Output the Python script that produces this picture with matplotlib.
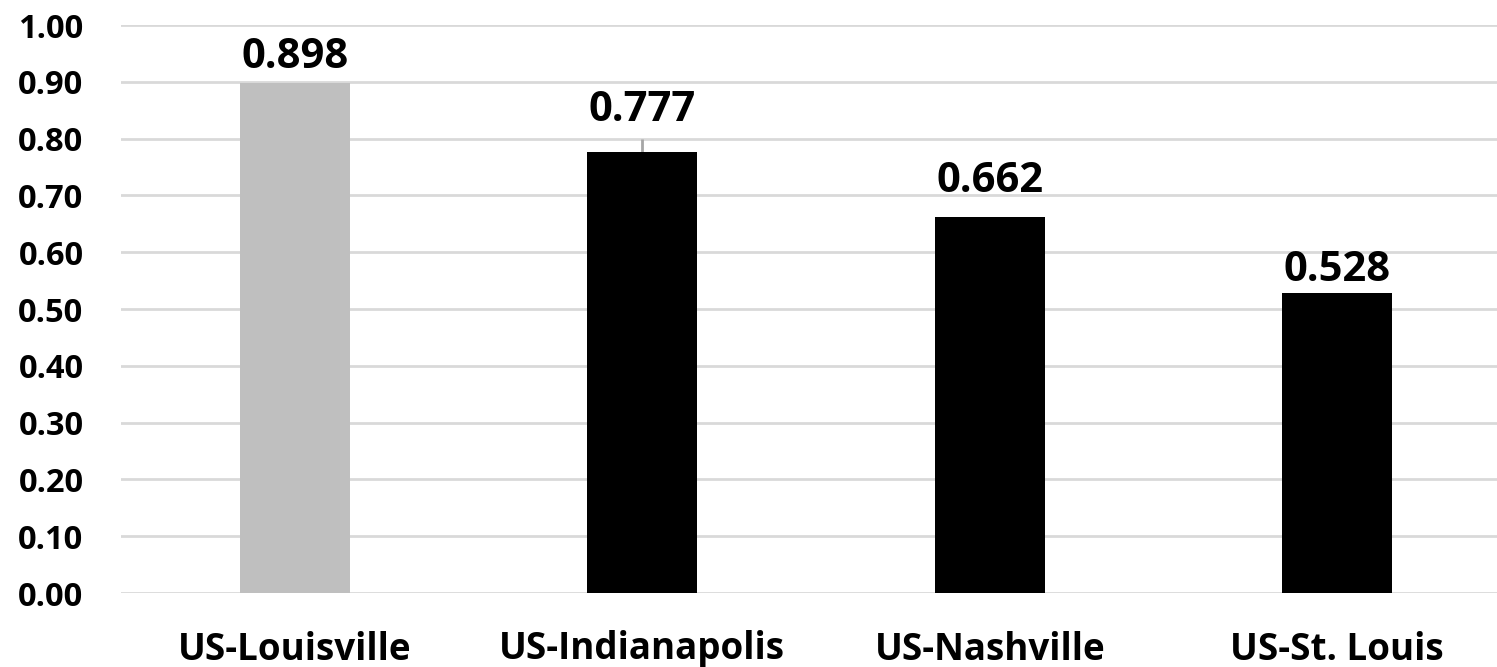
import matplotlib.pyplot as plt

# Cities and their index values
cities = ['US-Louisville', 'US-Indianapolis', 'US-Nashville', 'US-St. Louis']
values = [0.898, 0.777, 0.662, 0.528]
bar_colors = ['#BFBFBF', '#000000', '#000000', '#000000']

# vertical gap (points) between bar top and its value label
label_gap = [11, 22, 18, 9]

plt.rcParams['font.family'] = ['Open Sans', 'DejaVu Sans']
plt.rcParams['font.weight'] = 'bold'

fig = plt.figure(figsize=(14.97, 6.67), dpi=100)
ax = fig.add_axes([121 / 1497, 74 / 667, 1390 / 1497, 568 / 667])

x = range(len(cities))
ax.bar(x, values, width=0.317, color=bar_colors, zorder=3)

for i, v in enumerate(values):
    ax.annotate(f'{v:.3f}', (i, v), xytext=(0, label_gap[i]), textcoords='offset points',
                ha='center', va='baseline', fontsize=30, fontweight='bold')

# short leader line for the label that sits higher
ax.vlines(1, values[1], values[1] + 0.023, color='#A6A6A6', lw=2, zorder=2)

ax.set_xlim(-0.5, 3.5)
ax.set_ylim(0, 1.0)
ax.set_yticks([i / 10 for i in range(11)])
ax.set_yticklabels([f'{i / 10:.2f}' for i in range(11)], fontsize=23.5, fontweight='bold')
ax.set_xticks(list(x))
ax.set_xticklabels(cities, fontsize=26.5, fontweight='bold')

ax.grid(axis='y', color='#D9D9D9', lw=2, zorder=0)
ax.tick_params(axis='both', length=0)
ax.tick_params(axis='y', pad=27)
ax.tick_params(axis='x', pad=27)
for s in ax.spines.values():
    s.set_visible(False)
ax.set_axisbelow(True)

fig.savefig('out.png', dpi=100)
